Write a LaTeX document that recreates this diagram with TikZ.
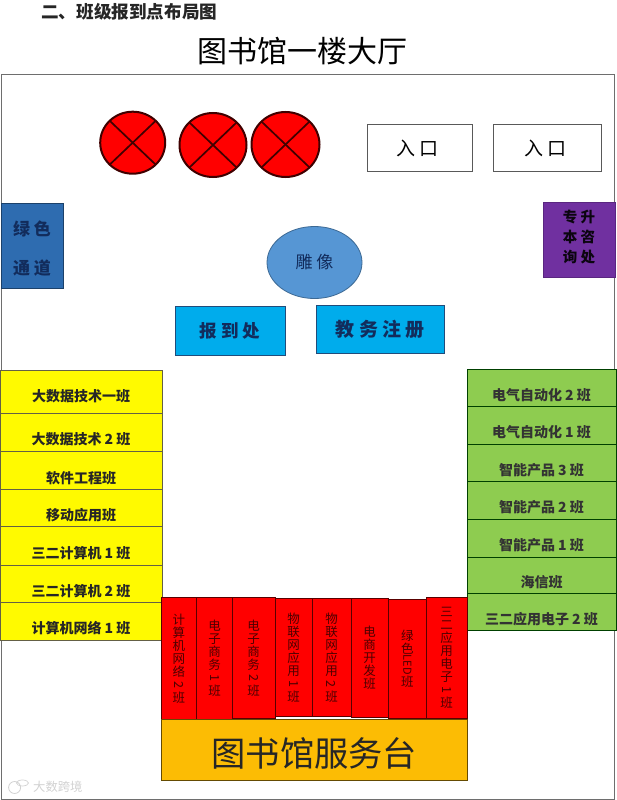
\documentclass[tikz,border=0pt]{standalone}
\usepackage{fontspec}
\setmainfont{Noto Sans CJK SC}
\usetikzlibrary{positioning, shapes.geometric}
\definecolor{hallgray}{RGB}{110,110,110}
\definecolor{hallnavy}{RGB}{18,44,92}
\definecolor{hallblue}{RGB}{46,108,176}
\definecolor{hallsky}{RGB}{0,172,236}
\definecolor{hallviolet}{RGB}{112,48,160}
\definecolor{hallstatue}{RGB}{86,150,212}
\definecolor{hallyellow}{RGB}{255,250,0}
\definecolor{hallgreen}{RGB}{142,204,80}
\definecolor{hallred}{RGB}{255,0,0}
\definecolor{hallgold}{RGB}{252,188,4}
\newcommand{\sidetxt}[1]{\rotatebox[origin=c]{-90}{#1}}
\tikzset{
    titlestyle/.style={font=\fontsize{30}{34}\selectfont, text=black, inner sep=0pt},
    headstyle/.style={font=\fontsize{17.6}{20}\selectfont\bfseries, text=black!85, inner sep=0pt},
    plainbox/.style={rectangle, anchor=north west, inner sep=0pt, outer sep=0pt, line width=0.8pt, align=center},
    entrybox/.style={plainbox, draw=black!65, fill=white, minimum height=47pt, font=\fontsize{19}{22}\selectfont},
    regbox/.style={plainbox, draw=hallblue!70!black, fill=hallsky, text=hallnavy, font=\fontsize{17.5}{22}\selectfont\bfseries},
    classyellow/.style={plainbox, draw=black!70!yellow, fill=hallyellow, minimum width=162pt, text=black!85, text height=25pt, text depth=0pt, font=\fontsize{14}{16}\selectfont\bfseries},
    classgreen/.style={plainbox, draw=green!25!black, fill=hallgreen, minimum width=149pt, text=black!80, text height=25pt, text depth=0pt, font=\fontsize{14}{16}\selectfont\bfseries},
    classred/.style={plainbox, draw=red!35!black, fill=hallred, text=red!30!black, font=\fontsize{12.5}{13}\selectfont},
    crossring/.style={ellipse, draw=red!25!black, fill=hallred, line width=2pt, inner sep=0pt, outer sep=0pt},
    crossline/.style={draw=red!25!black, line width=1.7pt}
}
\begin{document}
\begin{tikzpicture}[x=1pt, y=-1pt]
    \useasboundingbox (0,0) rectangle (616,800);
    \fill[white] (0,0) rectangle (616,800);

    % Hall outline and titles
    \node[plainbox, draw=hallgray, line width=1pt, minimum width=613.5pt, minimum height=725pt] (hall) at (1,74) {};
    \node[headstyle, anchor=west] (head) at (41,12) {二、班级报到点布局图};
    \node[titlestyle] (title) at (302.5,51) {图书馆一楼大厅};

    % Circles
    \node[crossring, minimum width=65pt, minimum height=62pt] (c1) at (132.7,142.7) {};
    \node[crossring, minimum width=67pt, minimum height=64pt] (c2) at (213,145) {};
    \node[crossring, minimum width=68pt, minimum height=65pt] (c3) at (285.5,144.5) {};
    \draw[crossline] (c1.north west) -- (c1.south east);
    \draw[crossline] (c1.north east) -- (c1.south west);
    \draw[crossline] (c2.north west) -- (c2.south east);
    \draw[crossline] (c2.north east) -- (c2.south west);
    \draw[crossline] (c3.north west) -- (c3.south east);
    \draw[crossline] (c3.north east) -- (c3.south west);

    % Entrances
    \node[entrybox, minimum width=105pt, text height=16pt, text depth=0pt] (in1) at (367,124) {入 口\hspace*{4pt}};
    \node[entrybox, minimum width=108.5pt, text height=16pt, text depth=0pt] (in2) at (493,124) {入 口\hspace*{4pt}};

    % Side rooms
    \node[plainbox, draw=hallblue!60!black, fill=hallblue, minimum width=62pt, minimum height=84.5pt, text=hallnavy, font=\fontsize{17}{39}\selectfont\bfseries] (lane) at (1,203.5) {\rule{0pt}{20pt}绿 色\\通 道};
    \node[plainbox, draw=hallviolet!80!black, fill=hallviolet, minimum width=72pt, minimum height=75pt, text=black!90!hallviolet, font=\fontsize{14.5}{20}\selectfont\bfseries] (help) at (543,202) {专 升\\本 咨\\询 处\rule[-6pt]{0pt}{6pt}};

    % Statue and desks
    \node[ellipse, draw=hallstatue!70!black, fill=hallstatue, line width=0.8pt, minimum width=95pt, minimum height=72pt, inner sep=0pt, text=hallnavy, font=\fontsize{17}{20}\selectfont] (statue) at (314.5,262.5) {雕 像};
    \node[regbox, minimum width=110pt, minimum height=49pt] (reg) at (175,306) {报 到 处};
    \node[regbox, minimum width=127.5pt, minimum height=48pt, font=\fontsize{19}{22}\selectfont\bfseries] (affairs) at (316.7,305) {教 务 注 册};

    % Left classes
    \node[classyellow, minimum height=43pt, text height=19pt] (y1) at (0,370) {大数据技术一班};
    \node[classyellow, minimum height=38.7pt] (y2) at (0,413) {大数据技术 2 班};
    \node[classyellow, minimum height=38pt] (y3) at (0,451.7) {软件工程班};
    \node[classyellow, minimum height=37pt] (y4) at (0,489.7) {移动应用班};
    \node[classyellow, minimum height=38.3pt] (y5) at (0,526.7) {三二计算机 1 班};
    \node[classyellow, minimum height=37.7pt] (y6) at (0,565) {三二计算机 2 班};
    \node[classyellow, minimum height=37.3pt] (y7) at (0,602.7) {计算机网络 1 班};

    % Right classes
    \node[classgreen, minimum height=37.7pt] (g1) at (467,369) {电气自动化 2 班};
    \node[classgreen, minimum height=37.3pt] (g2) at (467,406.7) {电气自动化 1 班};
    \node[classgreen, minimum height=37.7pt] (g3) at (467,444) {智能产品 3 班};
    \node[classgreen, minimum height=37.3pt] (g4) at (467,481.7) {智能产品 2 班};
    \node[classgreen, minimum height=38pt] (g5) at (467,519) {智能产品 1 班};
    \node[classgreen, minimum height=36pt] (g6) at (467,557) {海信班};
    \node[classgreen, minimum height=37pt] (g7) at (467,593) {三二应用电子 2 班};

    % Bottom classes
    \node[classred, minimum width=35.7pt, minimum height=122.7pt] (r1) at (161,597.3) {计\\算\\机\\网\\络\\\sidetxt{2}\\班};
    \node[classred, minimum width=35.6pt, minimum height=122.7pt] (r2) at (196.7,597.3) {电\\子\\商\\务\\\sidetxt{1}\\班};
    \node[classred, minimum width=42.7pt, minimum height=121pt] (r3) at (232.3,597.3) {电\\子\\商\\务\\\sidetxt{2}\\班};
    \node[classred, minimum width=37pt, minimum height=118.7pt] (r4) at (275,598) {物\\联\\网\\应\\用\\\sidetxt{1}\\班};
    \node[classred, minimum width=39pt, minimum height=118.7pt] (r5) at (312,598) {物\\联\\网\\应\\用\\\sidetxt{2}\\班};
    \node[classred, minimum width=37pt, minimum height=119pt] (r6) at (351,598) {电\\商\\开\\发\\班};
    \node[classred, minimum width=37.3pt, minimum height=119pt] (r7) at (388.7,599) {绿\\色\\\sidetxt{\fontsize{11}{13}\selectfont LED}\\班};
    \node[classred, minimum width=41pt, minimum height=120.7pt] (r8) at (426,597.3) {三\\二\\应\\用\\电\\子\\\sidetxt{1}\\班};

    % Service desk
    \node[plainbox, draw=black!60!hallgold, fill=hallgold, minimum width=306.7pt, minimum height=61.7pt, text=black!85, text height=33pt, text depth=0pt, font=\fontsize{34.3}{38}\selectfont] (desk) at (161,719) {图书馆服务台};

    % Watermark
    \node[anchor=west, inner sep=0pt, text=gray!35, font=\fontsize{12.3}{14}\selectfont] (mark) at (33,787) {大数跨境};
    \node[ellipse, draw=gray!35, line width=0.8pt, minimum width=12pt, minimum height=12pt, inner sep=0pt, left=12pt of mark.west, yshift=-0.5pt] (markicon) {};
    \node[ellipse, draw=gray!35, line width=0.7pt, minimum width=12pt, minimum height=6pt, inner sep=0pt, right=-3pt of markicon.north east] (markcap) {};
\end{tikzpicture}
\end{document}
